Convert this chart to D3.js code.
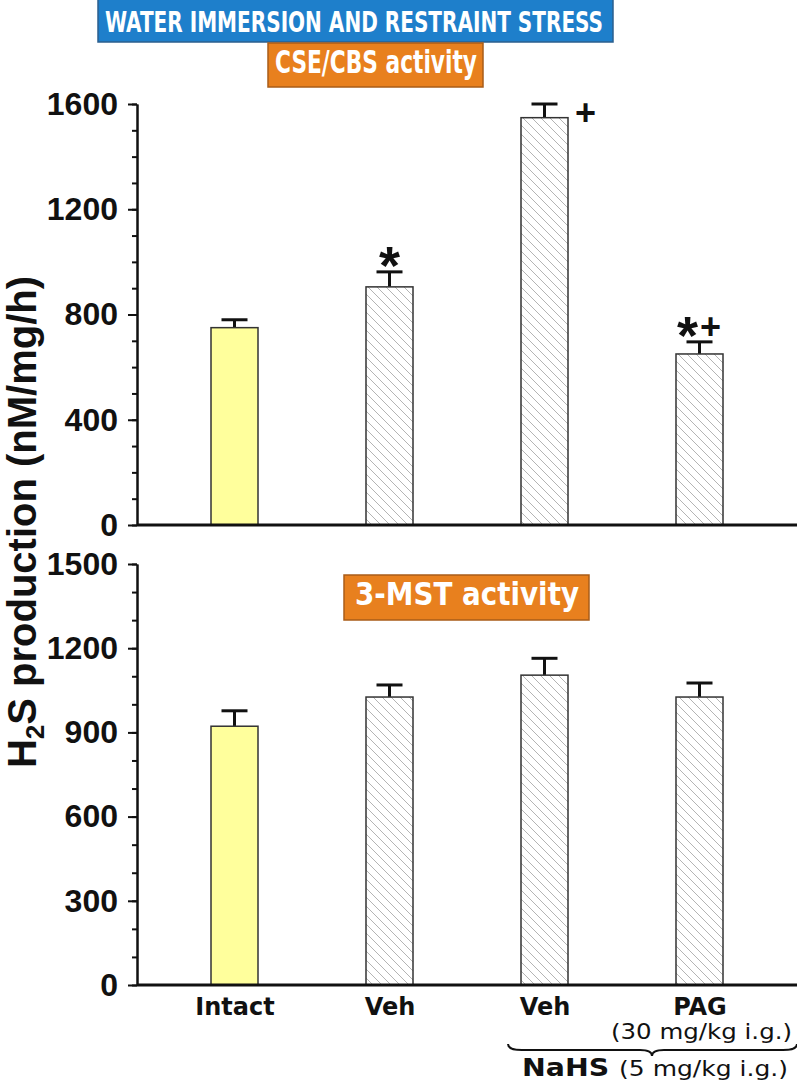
<!DOCTYPE html>
<html lang="en">
<head>
<meta charset="UTF-8">
<title>H2S production - water immersion and restraint stress</title>
<script src="https://d3js.org/d3.v7.min.js"></script>
<style>
  body { margin: 0; background: #fff; }
  svg { display: block; }
  .tick text { font-family: "Liberation Sans", Arial, sans-serif; font-weight: bold; font-size: 32px; fill: #111; }
  .tick line, .domain { stroke: #111; stroke-width: 2; }
  .boxtitle { font-family: "DejaVu Sans Condensed", "DejaVu Sans", sans-serif; font-weight: bold; fill: #fff; }
  .xlab { font-family: "DejaVu Sans", sans-serif; font-weight: bold; font-size: 24px; fill: #111; }
</style>
</head>
<body>
<svg id="chart" width="797" height="1086"></svg>
<script>
// values
var groups = ["Intact", "Veh", "Veh", "PAG"];
var cseMean = [750, 905, 1548, 650];
var cseErr = [30, 57, 52, 46];
var cseMarks = ["", "*", "+", "*+"];
var mstMean = [922, 1026, 1104, 1026];
var mstErr = [55, 43, 60, 50];
var mstMarks = ["", "", "", ""];
var cseTicks = [0, 400, 800, 1200, 1600];
var mstTicks = [0, 300, 600, 900, 1200, 1500];

var svg = d3.select("#chart");

var defs = svg.append("defs");
defs.append("pattern")
    .attr("id", "hatch")
    .attr("patternUnits", "userSpaceOnUse")
    .attr("width", 9)
    .attr("height", 9)
  .append("path")
    .attr("d", "M-1,-1L10,10M-1,8L1,10M8,-1L10,1")
    .attr("stroke", "#b4b4b4")
    .attr("stroke-width", 1);

var x = d3.scalePoint().domain(d3.range(groups.length)).range([234.5, 699.5]);
var barW = 47;
var axisX = 137;

var panels = [
  {name: "CSE/CBS activity", mean: cseMean, err: cseErr, marks: cseMarks, ticks: cseTicks,
   y: d3.scaleLinear().domain([0, 1600]).range([525, 104])},
  {name: "3-MST activity", mean: mstMean, err: mstErr, marks: mstMarks, ticks: mstTicks,
   y: d3.scaleLinear().domain([0, 1500]).range([985, 564])}
];

// glyph sizes / baseline offsets for significance marks
var markStyle = {"*": {size: 54, shift: 30}, "+": {size: 36, shift: 12}};

panels.forEach(function(p) {
  var g = svg.append("g");
  var y = p.y;
  var top = y.domain()[1];

  // minor ticks every 100
  g.append("g")
      .attr("transform", "translate(" + axisX + ",0)")
      .call(d3.axisLeft(y).tickValues(d3.range(0, top + 1, 100)).tickSize(5).tickSizeOuter(0).tickFormat(""));

  g.append("g")
      .attr("transform", "translate(" + axisX + ",0)")
      .call(d3.axisLeft(y).tickValues(p.ticks).tickSize(9).tickPadding(10).tickSizeOuter(0)
        .tickFormat(d3.format("d")));

  var bars = g.selectAll("g.bar")
    .data(p.mean)
    .enter()
    .append("g")
      .attr("class", "bar");

  // error bars (upper only)
  bars.append("line")
      .attr("x1", function(d, i) { return x(i); })
      .attr("x2", function(d, i) { return x(i); })
      .attr("y1", function(d) { return y(d); })
      .attr("y2", function(d, i) { return y(d + p.err[i]); })
      .attr("stroke", "#111")
      .attr("stroke-width", 3);
  bars.append("line")
      .attr("x1", function(d, i) { return x(i) - 13; })
      .attr("x2", function(d, i) { return x(i) + 13; })
      .attr("y1", function(d, i) { return y(d + p.err[i]); })
      .attr("y2", function(d, i) { return y(d + p.err[i]); })
      .attr("stroke", "#111")
      .attr("stroke-width", 3);

  bars.append("rect")
      .attr("x", function(d, i) { return x(i) - barW / 2; })
      .attr("y", function(d) { return y(d); })
      .attr("width", barW)
      .attr("height", function(d) { return y(0) - y(d); })
      .attr("fill", function(d, i) { return i === 0 ? "#ffff9c" : "url(#hatch)"; })
      .attr("stroke", "#333")
      .attr("stroke-width", 1.5);

  // significance marks: a lone "+" sits right of the cap, others above it
  bars.each(function(d, i) {
    var m = p.marks[i];
    if (!m) return;
    var capY = y(d + p.err[i]);
    var chars = m.split("");
    chars.forEach(function(c, k) {
      var st = markStyle[c];
      var cx, cy;
      if (m === "+") {
        cx = x(i) + 41; cy = capY + 9;
      } else {
        cx = x(i) + (chars.length > 1 ? (k === 0 ? -12 : 11) : 0);
        cy = capY - 18 + (c === "+" ? 3 : 0);
      }
      d3.select(this).append("text")
          .attr("x", cx)
          .attr("y", cy + st.shift)
          .attr("text-anchor", "middle")
          .style("font-family", "'Liberation Sans', Arial, sans-serif")
          .style("font-weight", "bold")
          .style("font-size", st.size + "px")
          .attr("fill", "#111")
          .text(c);
    }, this);
  });

  // baseline
  g.append("line")
      .attr("x1", axisX)
      .attr("x2", 797)
      .attr("y1", y(0))
      .attr("y2", y(0))
      .attr("stroke", "#111")
      .attr("stroke-width", 3);
});

// header boxes
function box(x0, y0, w, h, fill, border, label, tx, tw, fs, base) {
  svg.append("rect")
      .attr("x", x0).attr("y", y0).attr("width", w).attr("height", h)
      .attr("fill", fill).attr("stroke", border).attr("stroke-width", 1.5);
  svg.append("text")
      .attr("class", "boxtitle")
      .attr("x", tx).attr("y", base)
      .attr("textLength", tw).attr("lengthAdjust", "spacingAndGlyphs")
      .style("font-size", fs + "px")
      .text(label);
}
box(98, -2, 515, 44, "#1e7fcb", "#2b5f8e", "WATER IMMERSION AND RESTRAINT STRESS", 105, 498, 28, 32);
box(268, 43, 215, 44, "#e8801e", "#a95c18", panels[0].name, 275, 202, 32, 73);
box(344, 575, 245, 45, "#e8801e", "#a95c18", panels[1].name, 355, 224, 32, 605);

// y label
var ylab = svg.append("text")
    .attr("transform", "translate(36,522) rotate(-90)")
    .attr("text-anchor", "middle")
    .style("font-family", "'Liberation Sans', Arial, sans-serif")
    .style("font-weight", "bold")
    .style("font-size", "40px")
    .attr("fill", "#111");
ylab.append("tspan").text("H");
ylab.append("tspan").attr("dy", 8).style("font-size", "26px").text("2");
ylab.append("tspan").attr("dy", -8).text("S production (nM/mg/h)");

// category labels
svg.selectAll("text.xlab")
  .data(groups)
  .enter()
  .append("text")
    .attr("class", "xlab")
    .attr("x", function(d, i) { return x(i) + 0.5; })
    .attr("y", 1015)
    .attr("text-anchor", "middle")
    .text(function(d) { return d; });

svg.append("text")
    .attr("class", "xlab")
    .attr("x", x(3) + 2)
    .attr("y", 1039)
    .attr("text-anchor", "middle")
    .attr("textLength", 181)
    .attr("lengthAdjust", "spacingAndGlyphs")
    .style("font-size", "22px")
    .style("font-weight", "normal")
    .text("(30 mg/kg i.g.)");

// brace under the two NaHS groups
var bx0 = 508, bx1 = 797, tip = 652, by0 = 1044, by1 = 1050, by2 = 1056;
svg.append("path")
    .attr("d", "M" + bx0 + "," + by0 + "Q" + bx0 + "," + by1 + " " + (bx0 + 14) + "," + by1 +
               "L" + (tip - 12) + "," + by1 + "Q" + tip + "," + by1 + " " + tip + "," + by2 +
               "Q" + tip + "," + by1 + " " + (tip + 12) + "," + by1 +
               "L" + (bx1 - 14) + "," + by1 + "Q" + bx1 + "," + by1 + " " + bx1 + "," + by0)
    .attr("fill", "none")
    .attr("stroke", "#111")
    .attr("stroke-width", 2);

var nahs = svg.append("text")
    .attr("class", "xlab")
    .attr("x", 522)
    .attr("y", 1076)
    .attr("textLength", 266)
    .attr("lengthAdjust", "spacingAndGlyphs");
nahs.append("tspan").style("font-size", "25px").text("NaHS ");
nahs.append("tspan").style("font-size", "22px").style("font-weight", "normal").text("(5 mg/kg i.g.)");
</script>
</body>
</html>
